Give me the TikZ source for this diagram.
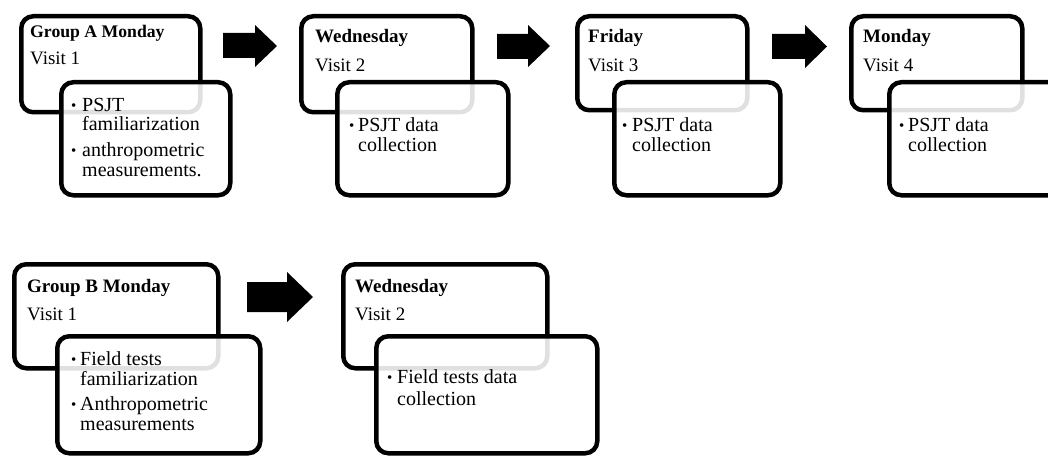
\documentclass[tikz,border=0pt]{standalone}
\usepackage{fontspec}
\setmainfont{Liberation Serif}
\begin{document}
\begin{tikzpicture}[x=1pt,y=-1pt,
  back/.style={draw=black,line width=4.5pt,rounded corners=12pt,fill=white,anchor=north west,inner sep=0pt},
  front/.style={draw=black,line width=4.5pt,rounded corners=12pt,fill=white,fill opacity=0.88,anchor=north west,inner sep=0pt},
  ttl/.style={anchor=base west,inner sep=0pt,font=\fontsize{19}{22}\selectfont\bfseries},
  ttlsm/.style={anchor=base west,inner sep=0pt,font=\fontsize{17.7}{20}\selectfont\bfseries},
  vis/.style={anchor=base west,inner sep=0pt,font=\fontsize{19}{22}\selectfont},
  itm/.style={anchor=base west,inner sep=0pt,font=\fontsize{20}{22}\selectfont},
  bul/.style={anchor=base west,inner sep=0pt,font=\fontsize{15}{16}\selectfont},
  blk/.style={fill=black}]
\path[use as bounding box] (0,0) rectangle (1048,457);
\clip (0,0) rectangle (1048,457);

% ---------- Row 1 ----------
% Box A1
\node[back,minimum width=179pt,minimum height=96pt] (a1b) at (19,14) {};
\node[ttlsm] (a1t) at (30,38) {Group A Monday};
\node[vis] (a1v) at (30,65) {Visit 1};
\node[front,minimum width=169pt,minimum height=113pt] (a1f) at (59,80) {};
\node[bul] (a1d1) at (71,111) {•};
\node[itm] (a1l1) at (82,112) {PSJT};
\node[itm] (a1l2) at (82,131) {familiarization};
\node[bul] (a1d2) at (71,156) {•};
\node[itm] (a1l3) at (82,157) {anthropometric};
\node[itm] (a1l4) at (82,176) {measurements.};

% Box 2
\node[back,minimum width=171pt,minimum height=96pt] (a2b) at (299,14) {};
\node[ttl] (a2t) at (315,43) {Wednesday};
\node[vis] (a2v) at (315,72) {Visit 2};
\node[front,minimum width=171pt,minimum height=113pt] (a2f) at (335,80) {};
\node[bul] (a2d1) at (349,131) {•};
\node[itm] (a2l1) at (358,132) {PSJT data};
\node[itm] (a2l2) at (358,152) {collection};

% Box 3
\node[back,minimum width=170pt,minimum height=94pt] (a3b) at (575,14) {};
\node[ttl] (a3t) at (588,43) {Friday};
\node[vis] (a3v) at (588,72) {Visit 3};
\node[front,minimum width=166pt,minimum height=113pt] (a3f) at (612,80) {};
\node[bul] (a3d1) at (622,131) {•};
\node[itm] (a3l1) at (632,132) {PSJT data};
\node[itm] (a3l2) at (632,152) {collection};

% Box 4
\node[back,minimum width=171pt,minimum height=94pt] (a4b) at (849,14) {};
\node[ttl] (a4t) at (863,43) {Monday};
\node[vis] (a4v) at (863,72) {Visit 4};
\node[front,minimum width=175pt,minimum height=113pt] (a4f) at (887,80) {};
\node[bul] (a4d1) at (899,131) {•};
\node[itm] (a4l1) at (908,132) {PSJT data};
\node[itm] (a4l2) at (908,152) {collection};

% Block arrows row 1
\fill[blk] (223,33) -- (255,33) -- (255,25) -- (277,46) -- (255,67) -- (255,58) -- (223,58) -- cycle;
\fill[blk] (497,34) -- (528,34) -- (528,25) -- (550,46) -- (528,67) -- (528,59) -- (497,59) -- cycle;
\fill[blk] (772,34) -- (805,34) -- (805,25) -- (827,46.5) -- (805,68) -- (805,59) -- (772,59) -- cycle;

% ---------- Row 2 ----------
% Box B1
\node[back,minimum width=204pt,minimum height=104pt] (b1b) at (12,262) {};
\node[ttl] (b1t) at (27,292) {Group B Monday};
\node[vis] (b1v) at (27,320) {Visit 1};
\node[front,minimum width=203pt,minimum height=117pt] (b1f) at (55,334) {};
\node[bul] (b1d1) at (71,364) {•};
\node[itm] (b1l1) at (80,365) {Field tests};
\node[itm] (b1l2) at (80,385) {familiarization};
\node[bul] (b1d2) at (71,409) {•};
\node[itm] (b1l3) at (80,410) {Anthropometric};
\node[itm] (b1l4) at (80,430) {measurements};

% Box B2
\node[back,minimum width=204pt,minimum height=104pt] (b2b) at (341,262) {};
\node[ttl] (b2t) at (355,292) {Wednesday};
\node[vis] (b2v) at (355,320) {Visit 2};
\node[front,minimum width=221pt,minimum height=117pt] (b2f) at (374,334) {};
\node[bul] (b2d1) at (387,382) {•};
\node[itm] (b2l1) at (397,383) {Field tests data};
\node[itm] (b2l2) at (397,405) {collection};

% Block arrow row 2
\fill[blk] (247,282) -- (287,282) -- (287,272) -- (313,297) -- (287,322) -- (287,312) -- (247,312) -- cycle;
\end{tikzpicture}
\end{document}
